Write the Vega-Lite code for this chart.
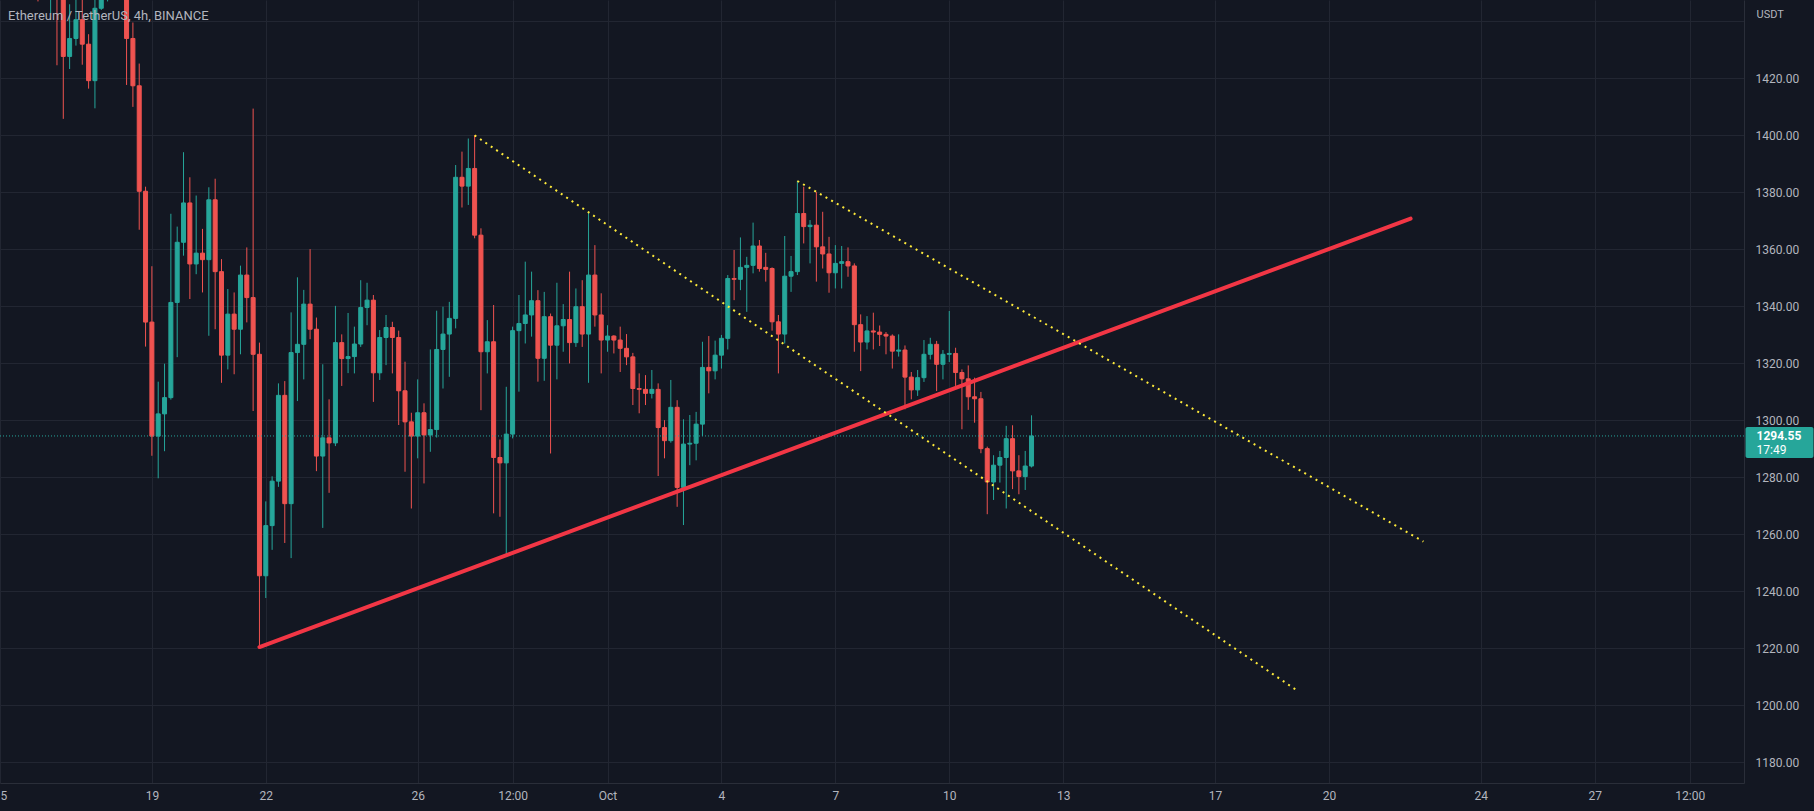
{
"$schema": "https://vega.github.io/schema/vega-lite/v6.json",
"width": 1744, "height": 783, "padding": {"left": 0, "top": 0, "right": 70, "bottom": 28}, "autosize": {"type": "none"},
"background": "#131722",
"config": {"view": {"stroke": null}, "font": "Roboto"},
"datasets": {
"candles": [
{"t":"2022-09-15T00:00Z","o":1600,"h":1612,"l":1560,"c":1566},
{"t":"2022-09-15T04:00Z","o":1566,"h":1574,"l":1520,"c":1528},
{"t":"2022-09-15T08:00Z","o":1528,"h":1540,"l":1496,"c":1502},
{"t":"2022-09-15T12:00Z","o":1502,"h":1512,"l":1470,"c":1478},
{"t":"2022-09-15T16:00Z","o":1478,"h":1492,"l":1462,"c":1484},
{"t":"2022-09-15T20:00Z","o":1484,"h":1490,"l":1458,"c":1468},
{"t":"2022-09-16T00:00Z","o":1468,"h":1476,"l":1447,"c":1460},
{"t":"2022-09-16T04:00Z","o":1460,"h":1474,"l":1452,"c":1466},
{"t":"2022-09-16T08:00Z","o":1466,"h":1475,"l":1442.8,"c":1471},
{"t":"2022-09-16T12:00Z","o":1471,"h":1478,"l":1424.6,"c":1462},
{"t":"2022-09-16T16:00Z","o":1462,"h":1466,"l":1405.8,"c":1427.7},
{"t":"2022-09-16T20:00Z","o":1427.7,"h":1446,"l":1423.3,"c":1434},
{"t":"2022-09-17T00:00Z","o":1434,"h":1449,"l":1431.5,"c":1440.6},
{"t":"2022-09-17T04:00Z","o":1440.6,"h":1449,"l":1424.8,"c":1432},
{"t":"2022-09-17T08:00Z","o":1432,"h":1435.5,"l":1416.4,"c":1419.2},
{"t":"2022-09-17T12:00Z","o":1419.2,"h":1452,"l":1409.5,"c":1444.6},
{"t":"2022-09-17T16:00Z","o":1444.6,"h":1462,"l":1444,"c":1455},
{"t":"2022-09-17T20:00Z","o":1455,"h":1468,"l":1447,"c":1460},
{"t":"2022-09-18T00:00Z","o":1460,"h":1470,"l":1447.5,"c":1457},
{"t":"2022-09-18T04:00Z","o":1457,"h":1472,"l":1450,"c":1462},
{"t":"2022-09-18T08:00Z","o":1462,"h":1466,"l":1417.7,"c":1434},
{"t":"2022-09-18T12:00Z","o":1434,"h":1439.6,"l":1410,"c":1417.4},
{"t":"2022-09-18T16:00Z","o":1417.4,"h":1425.2,"l":1366.9,"c":1380.4},
{"t":"2022-09-18T20:00Z","o":1380.4,"h":1382,"l":1325.9,"c":1334.5},
{"t":"2022-09-19T00:00Z","o":1334.5,"h":1354.1,"l":1287.6,"c":1294.5},
{"t":"2022-09-19T04:00Z","o":1294.5,"h":1313.6,"l":1279.7,"c":1302.3},
{"t":"2022-09-19T08:00Z","o":1302.3,"h":1319.9,"l":1289.2,"c":1308},
{"t":"2022-09-19T12:00Z","o":1308,"h":1372.5,"l":1307.3,"c":1341.4},
{"t":"2022-09-19T16:00Z","o":1341.4,"h":1368,"l":1322.2,"c":1362.5},
{"t":"2022-09-19T20:00Z","o":1362.5,"h":1394.1,"l":1357.8,"c":1376.3},
{"t":"2022-09-20T00:00Z","o":1376.3,"h":1385.3,"l":1342.6,"c":1354.9},
{"t":"2022-09-20T04:00Z","o":1354.9,"h":1378.9,"l":1351.3,"c":1358.7},
{"t":"2022-09-20T08:00Z","o":1358.7,"h":1367.2,"l":1344.9,"c":1356.4},
{"t":"2022-09-20T12:00Z","o":1356.4,"h":1381.8,"l":1329.7,"c":1377.4},
{"t":"2022-09-20T16:00Z","o":1377.4,"h":1384.8,"l":1332,"c":1352.2},
{"t":"2022-09-20T20:00Z","o":1352.2,"h":1356.6,"l":1313.2,"c":1322.9},
{"t":"2022-09-21T00:00Z","o":1322.9,"h":1346.1,"l":1317.9,"c":1337.3},
{"t":"2022-09-21T04:00Z","o":1337.3,"h":1344.9,"l":1316.2,"c":1332},
{"t":"2022-09-21T08:00Z","o":1332,"h":1354.3,"l":1323.2,"c":1351},
{"t":"2022-09-21T12:00Z","o":1351,"h":1360.7,"l":1334.4,"c":1343.1},
{"t":"2022-09-21T16:00Z","o":1343.1,"h":1409.4,"l":1303.3,"c":1323.2},
{"t":"2022-09-21T20:00Z","o":1323.2,"h":1327.3,"l":1221,"c":1245.5},
{"t":"2022-09-22T00:00Z","o":1245.5,"h":1271.6,"l":1237.7,"c":1263.1},
{"t":"2022-09-22T04:00Z","o":1263.1,"h":1280.4,"l":1254.6,"c":1278.7},
{"t":"2022-09-22T08:00Z","o":1278.7,"h":1313,"l":1276.7,"c":1308.8},
{"t":"2022-09-22T12:00Z","o":1308.8,"h":1313.8,"l":1257,"c":1270.8},
{"t":"2022-09-22T16:00Z","o":1270.8,"h":1337.9,"l":1251.7,"c":1323.8},
{"t":"2022-09-22T20:00Z","o":1323.8,"h":1350.2,"l":1306.8,"c":1326.7},
{"t":"2022-09-23T00:00Z","o":1326.7,"h":1345.8,"l":1314.4,"c":1340.8},
{"t":"2022-09-23T04:00Z","o":1340.8,"h":1360.1,"l":1328.5,"c":1332},
{"t":"2022-09-23T08:00Z","o":1332,"h":1336.1,"l":1282.2,"c":1287.5},
{"t":"2022-09-23T12:00Z","o":1287.5,"h":1319.7,"l":1262.3,"c":1293.9},
{"t":"2022-09-23T16:00Z","o":1293.9,"h":1307.4,"l":1274.6,"c":1292.1},
{"t":"2022-09-23T20:00Z","o":1292.1,"h":1340.2,"l":1291,"c":1327.3},
{"t":"2022-09-24T00:00Z","o":1327.3,"h":1330.2,"l":1312.1,"c":1321.7},
{"t":"2022-09-24T04:00Z","o":1321.7,"h":1337.7,"l":1316.6,"c":1322.4},
{"t":"2022-09-24T08:00Z","o":1322.4,"h":1332.9,"l":1316.5,"c":1326.8},
{"t":"2022-09-24T12:00Z","o":1326.8,"h":1349.2,"l":1325.8,"c":1339.6},
{"t":"2022-09-24T16:00Z","o":1339.6,"h":1348.3,"l":1333.4,"c":1342.2},
{"t":"2022-09-24T20:00Z","o":1342.2,"h":1344,"l":1306.5,"c":1316.7},
{"t":"2022-09-25T00:00Z","o":1316.7,"h":1331.7,"l":1314.2,"c":1329.1},
{"t":"2022-09-25T04:00Z","o":1329.1,"h":1337,"l":1319.4,"c":1332.6},
{"t":"2022-09-25T08:00Z","o":1332.6,"h":1334.6,"l":1316.5,"c":1329.1},
{"t":"2022-09-25T12:00Z","o":1329.1,"h":1331.5,"l":1298.4,"c":1310.4},
{"t":"2022-09-25T16:00Z","o":1310.4,"h":1320.6,"l":1282,"c":1299.5},
{"t":"2022-09-25T20:00Z","o":1299.5,"h":1302.7,"l":1269.1,"c":1294.5},
{"t":"2022-09-26T00:00Z","o":1294.5,"h":1314.4,"l":1286.7,"c":1302.7},
{"t":"2022-09-26T04:00Z","o":1302.7,"h":1306,"l":1277.9,"c":1294.9},
{"t":"2022-09-26T08:00Z","o":1294.9,"h":1324.9,"l":1289,"c":1296.8},
{"t":"2022-09-26T12:00Z","o":1296.8,"h":1338.5,"l":1294,"c":1324.9},
{"t":"2022-09-26T16:00Z","o":1324.9,"h":1339.9,"l":1311.2,"c":1330.3},
{"t":"2022-09-26T20:00Z","o":1330.3,"h":1341.6,"l":1315.3,"c":1335.8},
{"t":"2022-09-27T00:00Z","o":1335.8,"h":1389.6,"l":1332.3,"c":1385.3},
{"t":"2022-09-27T04:00Z","o":1385.3,"h":1394.3,"l":1374.7,"c":1382.2},
{"t":"2022-09-27T08:00Z","o":1382.2,"h":1398.9,"l":1375.6,"c":1388.4},
{"t":"2022-09-27T12:00Z","o":1388.4,"h":1400.1,"l":1363.9,"c":1365},
{"t":"2022-09-27T16:00Z","o":1365,"h":1367.4,"l":1303.6,"c":1324.1},
{"t":"2022-09-27T20:00Z","o":1324.1,"h":1335.2,"l":1316.5,"c":1327.6},
{"t":"2022-09-28T00:00Z","o":1327.6,"h":1340.5,"l":1267.4,"c":1287},
{"t":"2022-09-28T04:00Z","o":1287,"h":1293.3,"l":1266.2,"c":1285.1},
{"t":"2022-09-28T08:00Z","o":1285.1,"h":1311.8,"l":1252.7,"c":1295.2},
{"t":"2022-09-28T12:00Z","o":1295.2,"h":1332.9,"l":1293.7,"c":1331.5},
{"t":"2022-09-28T16:00Z","o":1331.5,"h":1344,"l":1310.1,"c":1334},
{"t":"2022-09-28T20:00Z","o":1334,"h":1355.7,"l":1327,"c":1337},
{"t":"2022-09-29T00:00Z","o":1337,"h":1352.2,"l":1329.4,"c":1342},
{"t":"2022-09-29T04:00Z","o":1342,"h":1345.7,"l":1313.6,"c":1321.8},
{"t":"2022-09-29T08:00Z","o":1321.8,"h":1345.1,"l":1313.9,"c":1336.4},
{"t":"2022-09-29T12:00Z","o":1336.4,"h":1337.5,"l":1288.4,"c":1326.4},
{"t":"2022-09-29T16:00Z","o":1326.4,"h":1348.3,"l":1314.4,"c":1333.2},
{"t":"2022-09-29T20:00Z","o":1333.2,"h":1340.8,"l":1324.1,"c":1335.4},
{"t":"2022-09-30T00:00Z","o":1335.4,"h":1352.2,"l":1320,"c":1327.3},
{"t":"2022-09-30T04:00Z","o":1327.3,"h":1346.3,"l":1325.8,"c":1339.9},
{"t":"2022-09-30T08:00Z","o":1339.9,"h":1349.2,"l":1325.8,"c":1330.3},
{"t":"2022-09-30T12:00Z","o":1330.3,"h":1373.2,"l":1313.2,"c":1351},
{"t":"2022-09-30T16:00Z","o":1351,"h":1361.5,"l":1332.9,"c":1337},
{"t":"2022-09-30T20:00Z","o":1337,"h":1344.6,"l":1316.5,"c":1328.2},
{"t":"2022-10-01T00:00Z","o":1328.2,"h":1333.4,"l":1324.1,"c":1329.6},
{"t":"2022-10-01T04:00Z","o":1329.6,"h":1329.9,"l":1323.5,"c":1328.2},
{"t":"2022-10-01T08:00Z","o":1328.2,"h":1332.9,"l":1317,"c":1325.3},
{"t":"2022-10-01T12:00Z","o":1325.3,"h":1330.3,"l":1319.4,"c":1322.3},
{"t":"2022-10-01T16:00Z","o":1322.3,"h":1323.7,"l":1305.4,"c":1311.2},
{"t":"2022-10-01T20:00Z","o":1311.2,"h":1316.5,"l":1302.5,"c":1310.9},
{"t":"2022-10-02T00:00Z","o":1310.9,"h":1315.9,"l":1305.4,"c":1309.5},
{"t":"2022-10-02T04:00Z","o":1309.5,"h":1317.7,"l":1307.7,"c":1310.9},
{"t":"2022-10-02T08:00Z","o":1310.9,"h":1313,"l":1280.5,"c":1297.5},
{"t":"2022-10-02T12:00Z","o":1297.5,"h":1300.1,"l":1286.7,"c":1292.9},
{"t":"2022-10-02T16:00Z","o":1292.9,"h":1314.2,"l":1292.2,"c":1304.6},
{"t":"2022-10-02T20:00Z","o":1304.6,"h":1307.1,"l":1269.7,"c":1276.5},
{"t":"2022-10-03T00:00Z","o":1276.5,"h":1300.4,"l":1263.3,"c":1291.7},
{"t":"2022-10-03T04:00Z","o":1291.7,"h":1301.9,"l":1284.3,"c":1292},
{"t":"2022-10-03T08:00Z","o":1292,"h":1303,"l":1286,"c":1298.7},
{"t":"2022-10-03T12:00Z","o":1298.7,"h":1327.6,"l":1294.5,"c":1318.6},
{"t":"2022-10-03T16:00Z","o":1318.6,"h":1329.6,"l":1309.5,"c":1317.4},
{"t":"2022-10-03T20:00Z","o":1317.4,"h":1328,"l":1314.4,"c":1322.9},
{"t":"2022-10-04T00:00Z","o":1322.9,"h":1330,"l":1318.2,"c":1328.8},
{"t":"2022-10-04T04:00Z","o":1328.8,"h":1351,"l":1324.9,"c":1349.8},
{"t":"2022-10-04T08:00Z","o":1349.8,"h":1359.8,"l":1342.2,"c":1349.5},
{"t":"2022-10-04T12:00Z","o":1349.5,"h":1364.2,"l":1345.7,"c":1353.7},
{"t":"2022-10-04T16:00Z","o":1353.7,"h":1357.4,"l":1338.1,"c":1354.4},
{"t":"2022-10-04T20:00Z","o":1354.4,"h":1369.4,"l":1351.6,"c":1361.2},
{"t":"2022-10-05T00:00Z","o":1361.2,"h":1363.3,"l":1352.2,"c":1353.3},
{"t":"2022-10-05T04:00Z","o":1353.7,"h":1358.8,"l":1348.7,"c":1353},
{"t":"2022-10-05T08:00Z","o":1353.3,"h":1353.7,"l":1331.5,"c":1334.6},
{"t":"2022-10-05T12:00Z","o":1334.6,"h":1337,"l":1316.5,"c":1330.3},
{"t":"2022-10-05T16:00Z","o":1330.3,"h":1364.7,"l":1327,"c":1350.6},
{"t":"2022-10-05T20:00Z","o":1350.6,"h":1357.7,"l":1345.1,"c":1352.2},
{"t":"2022-10-06T00:00Z","o":1352.2,"h":1384.1,"l":1351,"c":1372.6},
{"t":"2022-10-06T04:00Z","o":1372.6,"h":1382,"l":1362.1,"c":1368},
{"t":"2022-10-06T08:00Z","o":1368,"h":1370.3,"l":1355.1,"c":1368.5},
{"t":"2022-10-06T12:00Z","o":1368.5,"h":1380.2,"l":1348.7,"c":1360.9},
{"t":"2022-10-06T16:00Z","o":1360.9,"h":1373.2,"l":1353.3,"c":1358.4},
{"t":"2022-10-06T20:00Z","o":1358.4,"h":1364.4,"l":1344.8,"c":1351.8},
{"t":"2022-10-07T00:00Z","o":1351.8,"h":1361.5,"l":1346.3,"c":1355.1},
{"t":"2022-10-07T04:00Z","o":1355.1,"h":1361.2,"l":1346.3,"c":1355.7},
{"t":"2022-10-07T08:00Z","o":1355.7,"h":1360.7,"l":1350.4,"c":1354.2},
{"t":"2022-10-07T12:00Z","o":1354.2,"h":1355.1,"l":1324.1,"c":1333.6},
{"t":"2022-10-07T16:00Z","o":1333.6,"h":1337.2,"l":1317.3,"c":1327.5},
{"t":"2022-10-07T20:00Z","o":1327.5,"h":1336.6,"l":1324.9,"c":1331.4},
{"t":"2022-10-08T00:00Z","o":1331.4,"h":1337.8,"l":1324.9,"c":1331},
{"t":"2022-10-08T04:00Z","o":1331,"h":1333.3,"l":1326.1,"c":1330.2},
{"t":"2022-10-08T08:00Z","o":1330.2,"h":1331,"l":1323.2,"c":1329.6},
{"t":"2022-10-08T12:00Z","o":1329.6,"h":1330.2,"l":1318.2,"c":1324.3},
{"t":"2022-10-08T16:00Z","o":1324.3,"h":1330.2,"l":1322.4,"c":1324.7},
{"t":"2022-10-08T20:00Z","o":1324.7,"h":1326.3,"l":1303.9,"c":1315.2},
{"t":"2022-10-09T00:00Z","o":1315.2,"h":1317,"l":1307.4,"c":1310.7},
{"t":"2022-10-09T04:00Z","o":1310.7,"h":1317.7,"l":1308.6,"c":1315},
{"t":"2022-10-09T08:00Z","o":1315,"h":1328.2,"l":1313.5,"c":1323.2},
{"t":"2022-10-09T12:00Z","o":1323.2,"h":1329,"l":1321.4,"c":1326.7},
{"t":"2022-10-09T16:00Z","o":1326.7,"h":1327.9,"l":1310.3,"c":1319.7},
{"t":"2022-10-09T20:00Z","o":1319.7,"h":1324.7,"l":1314.4,"c":1323.2},
{"t":"2022-10-10T00:00Z","o":1323.2,"h":1338.4,"l":1320.5,"c":1323.5},
{"t":"2022-10-10T04:00Z","o":1323.5,"h":1325.5,"l":1312.1,"c":1316.8},
{"t":"2022-10-10T08:00Z","o":1316.8,"h":1317.9,"l":1296.9,"c":1314.6},
{"t":"2022-10-10T12:00Z","o":1314.6,"h":1319.3,"l":1303.7,"c":1308.3},
{"t":"2022-10-10T16:00Z","o":1308.3,"h":1315,"l":1299.2,"c":1307.6},
{"t":"2022-10-10T20:00Z","o":1307.6,"h":1310,"l":1288.5,"c":1290.1},
{"t":"2022-10-11T00:00Z","o":1290.1,"h":1290.8,"l":1267.1,"c":1278.4},
{"t":"2022-10-11T04:00Z","o":1278.4,"h":1287.8,"l":1272.1,"c":1284.3},
{"t":"2022-10-11T08:00Z","o":1284.3,"h":1289.3,"l":1278.2,"c":1287},
{"t":"2022-10-11T12:00Z","o":1287,"h":1298.1,"l":1269.1,"c":1293.6},
{"t":"2022-10-11T16:00Z","o":1293.6,"h":1298.3,"l":1275.9,"c":1282.3},
{"t":"2022-10-11T20:00Z","o":1282.3,"h":1287.8,"l":1274.1,"c":1280.3},
{"t":"2022-10-12T00:00Z","o":1280.3,"h":1289.3,"l":1275.6,"c":1284},
{"t":"2022-10-12T04:00Z","o":1284,"h":1301.8,"l":1283.5,"c":1294.55}
],
"trend": [
{"t":"2022-09-21T20:00Z","p":1220.5},
{"t":"2022-10-22T03:36Z","p":1370.8}
],
"dots": [
{"id":"a","t":"2022-09-27T12:00Z","p":1400},
{"id":"a","t":"2022-10-19T04:00Z","p":1205.2},
{"id":"b","t":"2022-10-06T00:00Z","p":1384},
{"id":"b","t":"2022-10-22T11:41Z","p":1257.5}
],
"last": [
{"t":"2022-10-30T23:17Z","t2":"2022-11-01T18:14Z","p":1294.55,"p1":1297.7,"p2":1286.8,"price":"1294.55","timer":"17:49"}
],
"caption": [
{"t":"2022-09-15T00:00Z","p":1447.5,"text":"Ethereum / TetherUS, 4h, BINANCE"}
]
},
"layer": [
{
"data": {"name": "candles"},
"mark": {"type": "rule", "clip": true, "strokeWidth": 1},
"encoding": {
"x": {"field": "t", "type": "temporal", "scale": {"type": "utc", "domain": [1663200000000, 1667168352000], "padding": 0},
"axis": {"orient": "bottom", "title": null, "values": [1663200000000,1663545600000,1663804800000,1664150400000,1664366400000,1664582400000,1664841600000,1665100800000,1665360000000,1665619200000,1665964800000,1666224000000,1666569600000,1666828800000,1667044800000],
"labelExpr": "utcFormat(datum.value, '%H') == '12' ? '12:00' : (utcFormat(datum.value, '%d') == '01' ? utcFormat(datum.value, '%b') : utcFormat(datum.value, '%-d'))",
"grid": true, "gridColor": "#222632", "gridWidth": 1, "ticks": false, "domain": true, "domainColor": "#2a2e39",
"labelColor": "#b2b5be", "labelFontSize": 12, "labelFont": "Roboto", "labelPadding": 7, "labelAlign": "center", "labelOverlap": false, "labelFlush": false, "labelBound": false}},
"y": {"field": "l", "type": "quantitative", "scale": {"domain": [1172.8, 1447.5], "nice": false, "zero": false, "padding": 0},
"axis": {"orient": "right", "title": "USDT", "titleAngle": 0, "titleAlign": "left", "titleBaseline": "middle", "titleX": 12, "titleY": 14, "titleColor": "#b2b5be", "titleFontSize": 11, "titleFontWeight": "normal", "titleFont": "Roboto",
"values": [1180,1200,1220,1240,1260,1280,1300,1320,1340,1360,1380,1400,1420,1440],
"labelExpr": "datum.value >= 1440 ? '' : format(datum.value, '.2f')",
"grid": true, "gridColor": "#222632", "gridWidth": 1, "ticks": false, "domain": true, "domainColor": "#2a2e39",
"labelColor": "#b2b5be", "labelFontSize": 12, "labelFont": "Roboto", "labelPadding": 11, "labelOverlap": false, "labelBound": false}},
"y2": {"field": "h"},
"color": {"condition": {"test": "datum.c >= datum.o", "value": "#26a69a"}, "value": "#ef5350"}
}
},
{
"data": {"name": "candles"},
"mark": {"type": "bar", "clip": true, "size": 4, "strokeWidth": 1},
"encoding": {
"x": {"field": "t", "type": "temporal"},
"y": {"field": "o", "type": "quantitative"},
"y2": {"field": "c"},
"color": {"condition": {"test": "datum.c >= datum.o", "value": "#26a69a"}, "value": "#ef5350"},
"stroke": {"condition": {"test": "datum.c >= datum.o", "value": "#26a69a"}, "value": "#ef5350"}
}
},
{
"data": {"name": "last"},
"mark": {"type": "rule", "clip": true, "color": "#26a69a", "strokeWidth": 1, "strokeDash": [1, 2]},
"encoding": {
"y": {"field": "p", "type": "quantitative"}
}
},
{
"data": {"name": "trend"},
"mark": {"type": "line", "clip": true, "color": "#f23645", "strokeWidth": 4, "strokeCap": "round"},
"encoding": {
"x": {"field": "t", "type": "temporal"},
"y": {"field": "p", "type": "quantitative"}
}
},
{
"data": {"name": "dots"},
"mark": {"type": "line", "clip": true, "color": "#ffeb3b", "strokeWidth": 2, "strokeDash": [2, 4.5]},
"encoding": {
"x": {"field": "t", "type": "temporal"},
"y": {"field": "p", "type": "quantitative"},
"detail": {"field": "id"}
}
},
{
"data": {"name": "last"},
"mark": {"type": "rect", "clip": false, "color": "#26a69a", "cornerRadius": 2},
"encoding": {
"x": {"field": "t", "type": "temporal"},
"x2": {"field": "t2"},
"y": {"field": "p1", "type": "quantitative"},
"y2": {"field": "p2"}
}
},
{
"data": {"name": "last"},
"mark": {"type": "text", "clip": false, "align": "left", "baseline": "middle", "dx": 11, "dy": 0, "color": "#ffffff", "fontSize": 12, "fontWeight": "bold", "font": "Roboto"},
"encoding": {
"x": {"field": "t", "type": "temporal"},
"y": {"field": "p", "type": "quantitative"},
"text": {"field": "price"}
}
},
{
"data": {"name": "last"},
"mark": {"type": "text", "clip": false, "align": "left", "baseline": "middle", "dx": 11, "dy": 14, "color": "#ffffff", "fontSize": 12, "font": "Roboto"},
"encoding": {
"x": {"field": "t", "type": "temporal"},
"y": {"field": "p", "type": "quantitative"},
"text": {"field": "timer"}
}
},
{
"data": {"name": "caption"},
"mark": {"type": "text", "clip": false, "align": "left", "baseline": "middle", "dx": 8, "dy": 16, "color": "#b2b5be", "fontSize": 13, "font": "Roboto"},
"encoding": {
"x": {"field": "t", "type": "temporal"},
"y": {"field": "p", "type": "quantitative"},
"text": {"field": "text"}
}
}
]
}
